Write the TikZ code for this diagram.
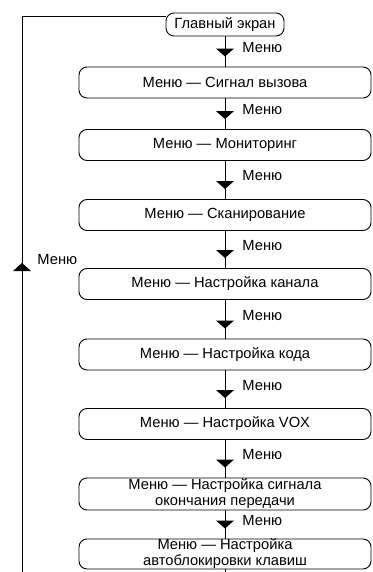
\documentclass[tikz,border=0pt]{standalone}
\usepackage{fontspec}
\setmainfont{Liberation Sans}
\usetikzlibrary{calc}
\begin{document}
\begin{tikzpicture}[x=1pt,y=-1pt,
  line width=0.9pt,
  every node/.style={font=\fontsize{14.7}{16}\selectfont},
  box/.style={draw, rounded corners=8pt, minimum width=292pt, minimum height=31pt, inner sep=0pt, align=center},
  lbl/.style={anchor=west, inner sep=0pt},
  dtri/.pic={\fill (0,0) -- (-9,-8) -- (9,-8) -- cycle;},
  utri/.pic={\fill (0,0) -- (-9,8) -- (9,8) -- cycle;}]
\useasboundingbox (0,0) rectangle (372,572);
\node[draw, rounded corners=8pt, minimum width=118pt, minimum height=23pt, inner sep=0pt] (top) at (225,24.5) {Главный экран};
\node[box] (b2) at (225,82.5) {Меню — Сигнал вызова};
\node[box] (b3) at (225,145) {Меню — Мониторинг};
\node[box] (b4) at (225,215) {Меню — Сканирование};
\node[box] (b5) at (225,284) {Меню — Настройка канала};
\node[box] (b6) at (225,354.5) {Меню — Настройка кода};
\node[box] (b7) at (225,424) {Меню — Настройка VOX};
\node[box, minimum height=32pt] (b8) at (225,494) {Меню — Настройка сигнала\\окончания передачи};
\node[box, minimum height=28pt] (b9) at (225,554) {Меню — Настройка\\автоблокировки клавиш};
% vertical connectors
\foreach \a/\b in {top/b2,b2/b3,b3/b4,b4/b5,b5/b6,b6/b7,b7/b8,b8/b9}{
  \draw (\a) -- (\b);
  \pic at ($(\b.north)+(0,-10)$) {dtri};
  \node[lbl] (l\b) at ($($(\a.south)!0.5!(\b.north)$)+(17,-4)$) {Меню};
}
\coordinate (bend) at (225,572);
\draw (b9) -- (bend);
% loop back
\coordinate (lb) at (22,572);
\coordinate (lt) at (22,16);
\draw (lb) -- (lt) -- (top.west |- lt);
\coordinate (ua) at (22,263);
\pic at (ua) {utri};
\node[lbl] (lloop) at ($(ua)+(15,-3)$) {Меню};
\end{tikzpicture}
\end{document}
